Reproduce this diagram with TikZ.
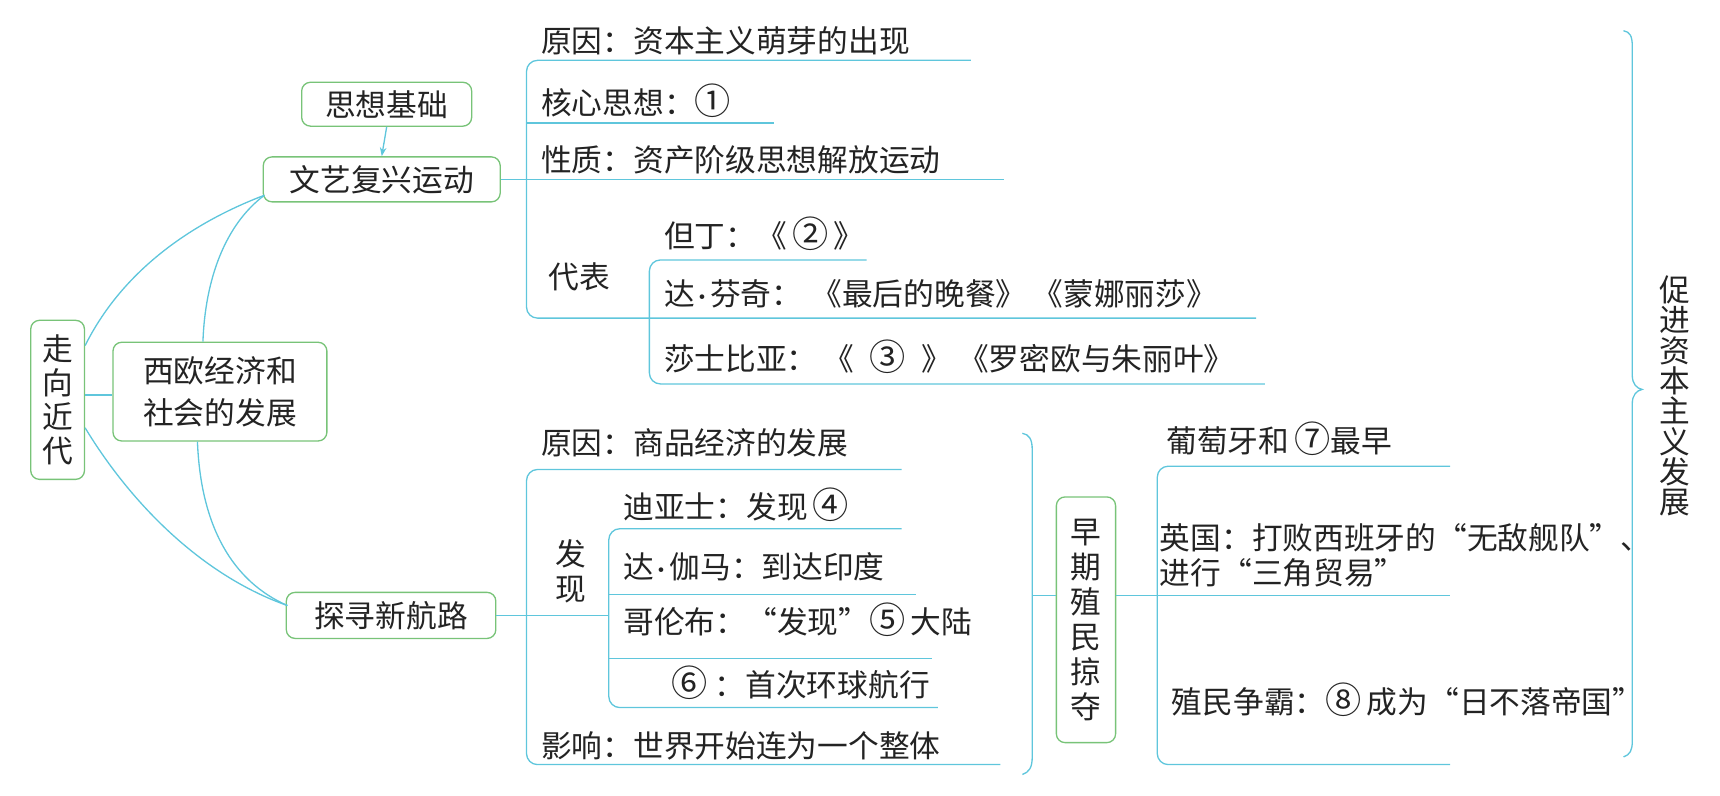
\documentclass[tikz,border=0pt]{standalone}
\usepackage{fontspec}
\usetikzlibrary{arrows.meta}
\newfontfamily\cjk{Noto Sans CJK SC}
\newcommand\myfs[2]{\cjk\fontsize{#1}{#2}\selectfont}
\newcommand\cn[1]{{\fontsize{16.5}{16.5}\selectfont #1}}
\newcommand\dt{\makebox[0.5em][c]{\fontsize{10}{10}\selectfont ·}}
\definecolor{lncol}{RGB}{95,198,220}
\definecolor{bxcol}{RGB}{120,195,120}
\definecolor{txcol}{RGB}{35,35,35}
\begin{document}
\begin{tikzpicture}[x=0.5pt,y=-0.5pt,
  every node/.style={font=\myfs{14}{17}, text=txcol},
  box/.style={draw=bxcol, line width=0.6pt, rounded corners=4pt, inner sep=0pt, align=center},
  conn/.style={draw=lncol, line width=0.6pt},
  bra/.style={draw=lncol, line width=0.6pt, rounded corners=5pt},
  lbl/.style={anchor=west, inner sep=0pt},
  vtxt/.style={align=center, inner sep=0pt}
]
\useasboundingbox (0,0) rectangle (1568,725);

% ---- boxes ----
\node[box, minimum width=77.5pt, minimum height=20pt] (sx) at (352.5,95) {思想基础};
\node[box, minimum width=108pt, minimum height=20.5pt] (wy) at (348,163.5) {文艺复兴运动};
\node[box, minimum width=24.5pt, minimum height=72.5pt, font=\myfs{14}{15.5}] (zx) at (52.5,364.5) {走\\向\\近\\代};
\node[box, minimum width=97.5pt, minimum height=45pt, font=\myfs{14}{19}] (xo) at (200.5,357) {西欧经济和\\社会的发展};
\node[box, minimum width=95.5pt, minimum height=21pt] (ts) at (356.5,561) {探寻新航路};
\node[box, minimum width=27pt, minimum height=112pt, font=\myfs{14}{16}] (zq) at (990,565) {早\\期\\殖\\民\\掠\\夺};

% ---- main connectors ----
\draw[conn, -{Stealth[length=4pt,width=3pt]}] (sx.south) -- (wy.north);
\coordinate (wyc) at (241,178);
\coordinate (tsc) at (262,552);
\draw[conn] (zx.east |- 0,315) .. controls (110,250) and (170,205) .. (wyc);
\draw[conn] (xo.north -| 185,0) .. controls (187,255) and (205,205) .. (wyc);
\draw[conn] (zx.east |- 0,360) -- (xo.west |- 0,360);
\draw[conn] (zx.east |- 0,390) .. controls (120,460) and (185,525) .. (tsc);
\draw[conn] (xo.south -| 180,0) .. controls (183,480) and (212,530) .. (tsc);

% ---- upper group ----
\node[lbl] (u1) at (493,37) {原因：资本主义萌芽的出现};
\node[lbl] (u2) at (493,92) {核心思想：\cn{①}};
\node[lbl] (u3) at (493,146) {性质：资产阶级思想解放运动};
\node[lbl] (u4) at (500,252) {代表};
\node[lbl] (u5) at (605,213) {但丁：《\,\cn{②}\,》};
\node[lbl] (u6) at (605,268) {达\dt 芬奇：\hspace{0.3em}《最后的晚餐》\hspace{0.2em}《蒙娜丽莎》};
\node[lbl] (u7) at (605,325) {莎士比亚：\hspace{0.2em}《\enspace\cn{③}\enspace》\hspace{0.2em}《罗密欧与朱丽叶》};

\draw[bra] (885,55) -- (480,55) -- (480,290) -- (1145,290);
\draw[conn] (480,112) -- (706,112);
\draw[conn] (wy.east) -- (915,163.5);
\draw[bra] (790,237) -- (592,237) -- (592,350) -- (1153,350);

% ---- lower group ----
\node[lbl] (d1) at (493,404) {原因：商品经济的发展};
\node[vtxt, font=\myfs{14}{16}] (d2) at (520,521) {发\\现};
\node[lbl] (d3) at (568,460) {迪亚士：发现\,\cn{④}};
\node[lbl] (d4) at (568,517) {达\dt 伽马：到达印度};
\node[lbl] (d5) at (568,565) {哥伦布：“发现”\cn{⑤}\,大陆};
\node[lbl] (d6) at (612,622) {\cn{⑥}\ ：首次环球航行};
\node[lbl] (d7) at (493,680) {影响：世界开始连为一个整体};

\draw[bra] (822,428) -- (480,428) -- (480,697) -- (912,697);
\draw[conn] (ts.east) -- (555,561);
\draw[bra] (822,482) -- (555,482) -- (555,645) -- (855,645);
\draw[conn] (555,542) -- (835,542);
\draw[conn] (555,600) -- (850,600);

% ---- colonial group ----
\draw[conn] (932,395) .. controls (938,396) and (941,400) .. (941,410) -- (941,690) .. controls (941,700) and (938,704) .. (932,706);
\coordinate (bm) at (941,543);
\draw[conn] (bm) -- (zq.west |- bm);
\draw[conn] (zq.east |- bm) -- (1322,543);
\draw[bra] (1322,425) -- (1055,425) -- (1055,697) -- (1322,697);

\node[lbl] (c1) at (1063,400) {葡萄牙和\,\cn{⑦}最早};
\node[lbl] (c2) at (1057,490) {英国：打败西班牙的“无敌舰队”、};
\node[lbl] (c3) at (1057,522) {进行“三角贸易”};
\node[lbl] (c4) at (1068,638) {殖民争霸：\cn{⑧}\,成为“日不落帝国”};

% ---- right brace ----
\draw[conn] (1480,28) .. controls (1486,29) and (1488,33) .. (1488,42) -- (1488,342) .. controls (1488,350) and (1492,354) .. (1497,355) .. controls (1492,356) and (1488,360) .. (1488,368) -- (1488,676) .. controls (1488,684) and (1486,688) .. (1480,690);
\node[vtxt, font=\myfs{14}{13.8}] (rt) at (1527,361) {促\\进\\资\\本\\主\\义\\发\\展};
\end{tikzpicture}
\end{document}
